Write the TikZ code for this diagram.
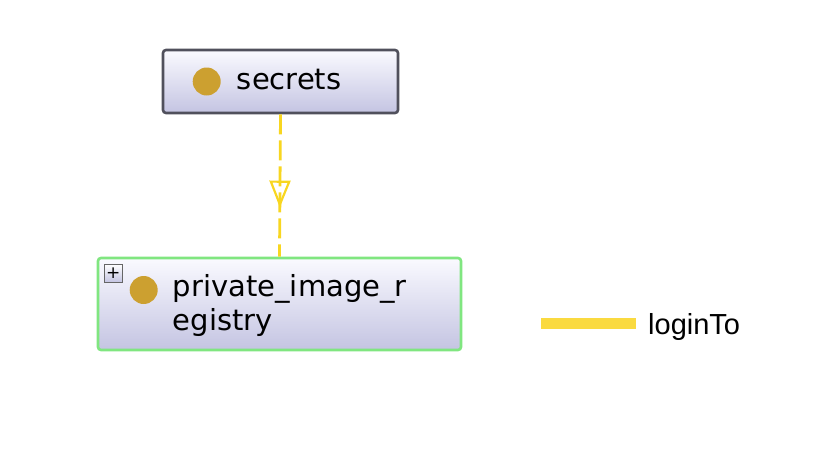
\documentclass[tikz,border=0pt]{standalone}
\usepackage{fontspec}
\setmainfont{DejaVu Sans}
\newfontfamily\legendfont{Liberation Sans}
\usetikzlibrary{arrows.meta, positioning, calc, decorations.markings}
\definecolor{boxline}{RGB}{80,80,92}
\definecolor{boxgreen}{RGB}{128,230,128}
\definecolor{boxtop}{RGB}{250,250,255}
\definecolor{boxbot}{RGB}{196,196,226}
\definecolor{dotgold}{RGB}{204,160,48}
\definecolor{edgeyel}{RGB}{248,214,32}
\definecolor{legyel}{RGB}{250,218,64}
\tikzset{
  classbox/.style={rectangle, draw=boxline, top color=boxtop, bottom color=boxbot,
    rounded corners=3pt, line width=2.6pt, inner sep=0pt},
  greenbox/.style={classbox, draw=boxgreen},
  classdot/.style={circle, fill=dotgold, minimum size=28pt, inner sep=0pt},
  classlabel/.style={anchor=west, inner sep=0pt, align=left,
    font=\fontsize{29}{34}\selectfont},
  plusbox/.style={rectangle, draw=gray!80!black, top color=white, bottom color=boxbot,
    line width=1.2pt, minimum size=18pt, inner sep=0pt, font=\fontsize{17}{17}\selectfont},
  subarrow/.style={edgeyel, line width=2.8pt, dash pattern=on 20pt off 6pt,
    postaction={decorate, decoration={markings,
      mark=at position 0.655 with {\arrow[solid, line width=2.2pt]{Triangle[open, length=27pt, width=21pt]}}}}},
  legendbar/.style={legyel, line width=11pt}
}
\begin{document}
\begin{tikzpicture}[x=1pt, y=1pt]
  \useasboundingbox (0,0) rectangle (825,-450);
  % class boxes
  \node[classbox, minimum width=235pt, minimum height=63pt] (secrets) at (280.5,-81.5) {};
  \node[classdot] (secretsdot) at ($(secrets.west)+(45,0)$) {};
  \node[classlabel] (secretslbl) at ($(secrets.west)+(75,2)$) {secrets};

  \node[greenbox, minimum width=363pt, minimum height=92pt] (registry) at (279.5,-304) {};
  \node[plusbox] (regplus) at ($(registry.north west)+(16.5,-16.5)$) {+};
  \node[classdot] (regdot) at ($(registry.west)+(47,14)$) {};
  \node[classlabel] (reglbl) at ($(registry.west)+(76,-1)$) {private\_image\_r\\egistry};

  % subclass edge
  \draw[subarrow] (secrets.south) -- (registry.north);

  % legend
  \coordinate (legstart) at (541,-323.5);
  \coordinate (legend) at (636,-323.5);
  \draw[legendbar] (legstart) -- (legend);
  \node[anchor=west, inner sep=0pt, font=\legendfont\fontsize{29}{29}\selectfont] (leglbl) at (648,-327) {loginTo};
\end{tikzpicture}
\end{document}
